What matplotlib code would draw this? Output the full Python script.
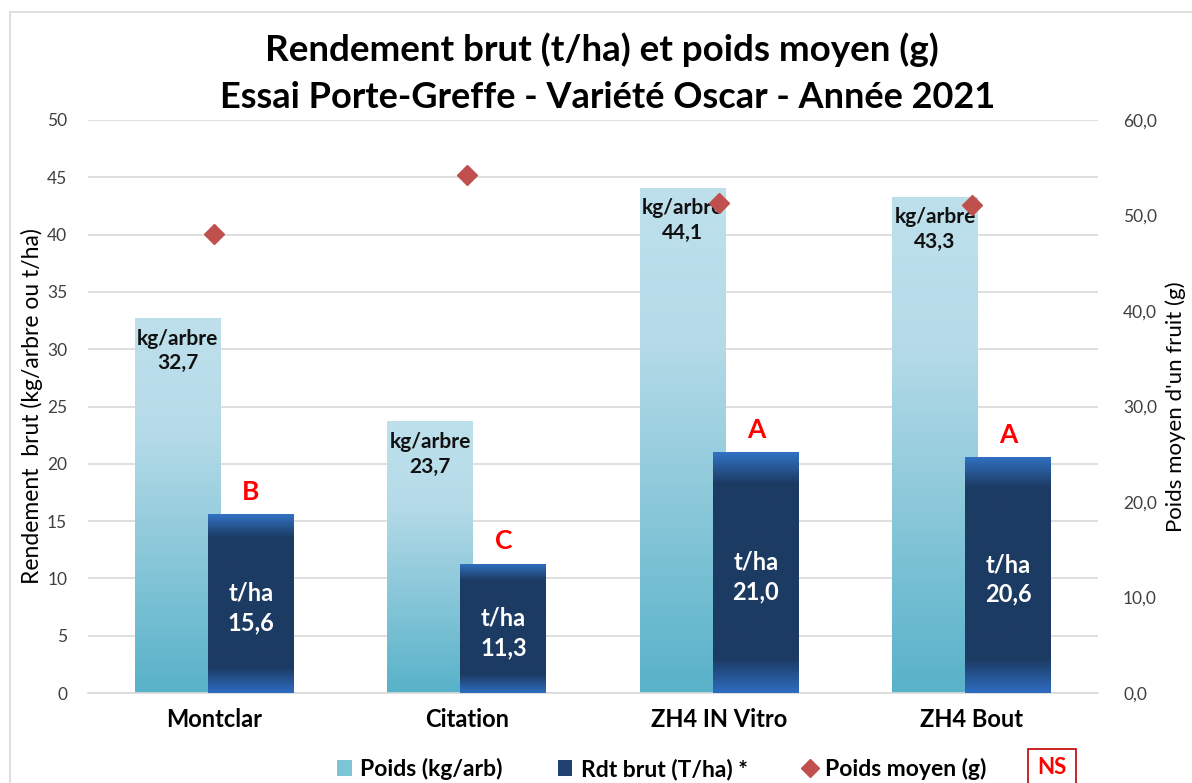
import numpy as np
import matplotlib.pyplot as plt
from matplotlib.colors import LinearSegmentedColormap
from matplotlib.lines import Line2D
from matplotlib.patches import Patch, Rectangle

plt.rcParams['font.family'] = ['Lato', 'DejaVu Sans']

categories = ['Montclar', 'Citation', 'ZH4 IN Vitro', 'ZH4 Bout']
poids_kg_arbre = [32.7, 23.7, 44.1, 43.3]
rdt_t_ha = [15.6, 11.3, 21.0, 20.6]
poids_moyen_g = [48.1, 54.2, 51.3, 51.1]
lettres = ['B', 'C', 'A', 'A']

# gradients (top -> bottom)
cmap_light = LinearSegmentedColormap.from_list(
    'light', [(0, '#bde0ec'), (0.3, '#b6dbe8'), (1, '#58b2c9')])
cmap_dark = LinearSegmentedColormap.from_list(
    'dark', [(0, '#3272c4'), (0.13, '#1c3b63'), (0.86, '#1c3b63'), (1, '#2f6cc0')])

fig = plt.figure(figsize=(11.92, 7.83), dpi=100)
# outer chart frame
fig.patches.append(Rectangle((10 / 1192, -0.1), 1.2, 1 - 12 / 783 + 0.1,
                             transform=fig.transFigure, fill=False,
                             edgecolor='#d9d9d9', linewidth=1.2))

ax = fig.add_axes([88 / 1192, 1 - 693 / 783, 1010 / 1192, (693 - 120) / 783])
ax2 = ax.twinx()
ax.set_zorder(ax2.get_zorder() - 1)
ax.patch.set_visible(True)
ax2.patch.set_visible(False)

x = np.arange(len(categories))
w = 0.34
off = 0.145


def grad_bars(bars, cmap, z):
    grad = np.linspace(0, 1, 256).reshape(-1, 1)
    for b in bars:
        x0, y0 = b.get_x(), b.get_y()
        im = ax.imshow(grad, extent=[x0, x0 + b.get_width(), y0, y0 + b.get_height()],
                       aspect='auto', cmap=cmap, origin='upper', zorder=z)
        im.set_clip_path(b)


b1 = ax.bar(x - off, poids_kg_arbre, w, color='none', zorder=2)
grad_bars(b1, cmap_light, 2)
b2 = ax.bar(x + off, rdt_t_ha, w, color='none', zorder=3)
grad_bars(b2, cmap_dark, 3)

for i in range(len(categories)):
    ax.text(x[i] - off, poids_kg_arbre[i] - 0.9, 'kg/arbre\n' + f'{poids_kg_arbre[i]:.1f}'.replace('.', ','),
            ha='center', va='top', fontsize=15, fontweight='bold', color='#111111',
            linespacing=1.3, zorder=5)
    ax.text(x[i] + off, rdt_t_ha[i] / 2 - 0.4, 't/ha\n' + f'{rdt_t_ha[i]:.1f}'.replace('.', ','),
            ha='center', va='center', fontsize=17, fontweight='bold', color='white',
            linespacing=1.35, zorder=5)
    ax.text(x[i] + off, rdt_t_ha[i] + 0.9, lettres[i], ha='center', va='bottom',
            fontsize=19, fontweight='bold', color='#ff0000', zorder=5)

ax.set_xlim(-0.5, len(categories) - 0.5)
ax.set_ylim(0, 50)
ax.set_yticks(np.arange(0, 51, 5))
ax.yaxis.grid(True, color='#d9d9d9', linewidth=1.2)
ax.set_axisbelow(True)
ax.set_xticks(x)
ax.set_xticklabels(categories, fontsize=17, fontweight='bold')
ax.tick_params(axis='x', length=0, pad=11)
ax.tick_params(axis='y', length=0, pad=15, labelsize=12.5, labelcolor='#404040')
ax.set_ylabel('Rendement  brut (kg/arbre ou t/ha)', fontsize=16.5, labelpad=3)

ax2.plot(x, poids_moyen_g, linestyle='none', marker='D', markersize=10,
         color='#c0504d', zorder=6)
ax2.set_ylim(0, 60)
ax2.set_yticks(np.arange(0, 61, 10))
ax2.set_yticklabels([f'{v:.1f}'.replace('.', ',') for v in np.arange(0, 61, 10)])
ax2.tick_params(axis='y', length=0, pad=18, labelsize=12.5, labelcolor='#404040')
ax2.set_ylabel("Poids moyen d'un fruit (g)", fontsize=16, labelpad=6)

for a in (ax, ax2):
    for s in a.spines.values():
        s.set_visible(False)
ax.spines['bottom'].set_visible(True)
ax.spines['bottom'].set_color('#d9d9d9')
ax.spines['bottom'].set_linewidth(1.2)

fig.text(0.505, 1 - 50 / 783, 'Rendement brut (t/ha) et poids moyen (g)',
         ha='center', va='center', fontsize=26.5, fontweight='bold')
fig.text(0.51, 1 - 97 / 783, 'Essai Porte-Greffe - Variété Oscar - Année 2021',
         ha='center', va='center', fontsize=26, fontweight='bold')

handles = [Patch(facecolor='#7cc4d6', edgecolor='none'),
           Patch(facecolor='#1f4272', edgecolor='none'),
           Line2D([], [], linestyle='none', marker='D', markersize=9, color='#c0504d')]
fig.legend(handles, ['Poids (kg/arb)', 'Rdt brut (T/ha) *', 'Poids moyen (g)'],
           loc='center', bbox_to_anchor=(662 / 1192, 1 - 769 / 783), ncol=3, frameon=False,
           prop={'size': 16.5, 'weight': 'bold'}, handlelength=0.65, handletextpad=0.35,
           columnspacing=2.4, borderpad=0, borderaxespad=0)
fig.text(1052 / 1192, 1 - 768 / 783, 'NS', ha='center', va='center', fontsize=16,
         fontweight='bold', color='#ff0000',
         bbox=dict(boxstyle='square,pad=0.4', facecolor='white', edgecolor='#c00000', linewidth=1.2))

fig.savefig('out.png', dpi=100)
